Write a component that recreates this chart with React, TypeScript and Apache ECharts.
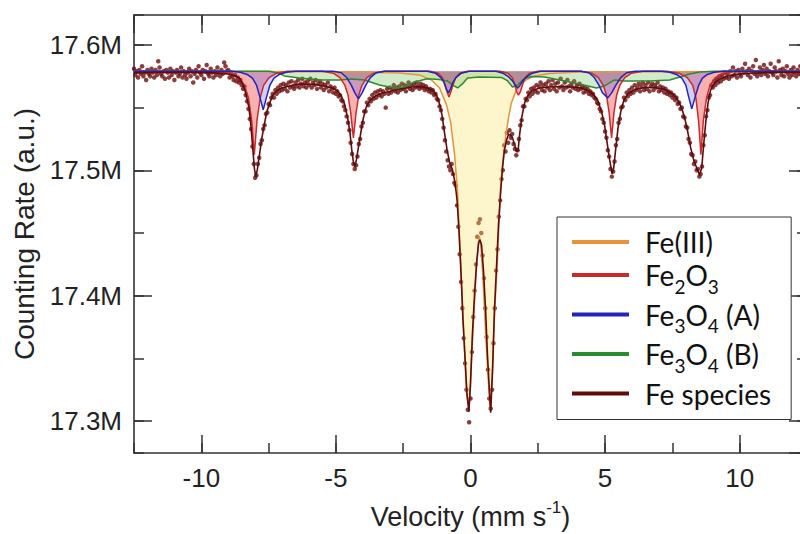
import { useEffect, useRef } from "react";
import * as echarts from "echarts";

// Mössbauer spectrum: channel velocities (mm/s) and counting rate (thousands of counts)
const VEL_START = -12.5;
const VEL_STEP = 0.05;
const COUNTS = [
  17581, 17576, 17579, 17574, 17580, 17577, 17583, 17575, 17578, 17572, 17580, 17577, 17575, 17581, 17578, 17574, 17580, 17576, 17587, 17582,
  17577, 17575, 17579, 17573, 17580, 17578, 17574, 17581, 17576, 17579, 17572, 17578, 17580, 17575, 17577, 17582, 17574, 17579, 17576, 17573,
  17578, 17581, 17575, 17579, 17570, 17577, 17580, 17574, 17583, 17578, 17576, 17580, 17573, 17579, 17584, 17577, 17575, 17581, 17578, 17574,
  17579, 17576, 17582, 17578, 17575, 17580, 17577, 17586, 17583, 17579,
  17580, 17574, 17578, 17575, 17572, 17576, 17571, 17574, 17570, 17572,
  17568, 17565, 17567, 17560, 17555, 17549, 17541, 17533, 17519, 17505,
  17494, 17496, 17505, 17510, 17521, 17524, 17533, 17536, 17545, 17546,
  17553, 17552, 17558, 17561, 17558, 17564, 17561, 17566, 17563, 17568,
  17564, 17569, 17565, 17568, 17563, 17570, 17566, 17571, 17567, 17565,
  17570, 17567, 17572, 17566, 17569, 17573, 17567, 17570, 17566, 17571,
  17568, 17573, 17566, 17570, 17568, 17572, 17565, 17569, 17571, 17566,
  17569, 17564, 17568, 17566, 17570, 17563, 17567, 17565, 17562, 17566,
  17561, 17563, 17559, 17560, 17556, 17555, 17551, 17548, 17543, 17538,
  17532, 17522, 17513, 17505, 17501, 17504, 17511, 17521, 17525, 17535,
  17538, 17547, 17547, 17554, 17552, 17557, 17555, 17560, 17557, 17562,
  17558, 17563, 17560, 17564, 17559, 17563, 17561, 17550, 17565, 17561,
  17566, 17562, 17565, 17568, 17563, 17566, 17562, 17567, 17564, 17569,
  17565, 17568, 17563, 17567, 17570, 17565, 17568, 17564, 17569, 17566,
  17570, 17567, 17565, 17569, 17566, 17568, 17564, 17567, 17565, 17563,
  17565, 17562, 17564, 17560, 17561, 17557, 17556, 17551, 17548, 17541,
  17534, 17524, 17515, 17508, 17503, 17500, 17505, 17497, 17490, 17488,
  17472, 17455, 17433, 17411, 17390, 17366, 17346, 17325, 17309, 17299,
  17318, 17355, 17383, 17404, 17425, 17447, 17458, 17461, 17450, 17432,
  17414, 17390, 17367, 17341, 17318, 17310, 17325, 17362, 17390, 17420,
  17437, 17463, 17476, 17493, 17500, 17520, 17515, 17530, 17522, 17532,
  17526, 17529, 17521, 17517, 17512, 17516, 17525, 17536, 17540, 17551,
  17551, 17557, 17556, 17562, 17559, 17565, 17561, 17566, 17563, 17568,
  17562, 17567, 17570, 17564, 17568, 17563, 17569, 17566, 17571, 17564,
  17568, 17572, 17565, 17569, 17563, 17570, 17566, 17573, 17567, 17564,
  17570, 17566, 17572, 17567, 17563, 17569, 17566, 17571, 17565, 17568,
  17564, 17569, 17565, 17567, 17562, 17566, 17563, 17565, 17561, 17563,
  17560, 17561, 17558, 17557, 17554, 17553, 17549, 17547, 17541, 17538,
  17531, 17526, 17516, 17511, 17501, 17495, 17499, 17507, 17520, 17525,
  17538, 17541, 17550, 17551, 17558, 17556, 17562, 17559, 17564, 17561,
  17566, 17562, 17568, 17564, 17566, 17569, 17563, 17567, 17570, 17564,
  17568, 17565, 17570, 17563, 17567, 17569, 17564, 17568, 17566, 17570,
  17563, 17567, 17564, 17566, 17562, 17565, 17561, 17563, 17560, 17562,
  17558, 17560, 17556, 17558, 17553, 17554, 17549, 17550, 17543, 17542,
  17535, 17534, 17525, 17522, 17513, 17512, 17505, 17507, 17500, 17501,
  17495, 17497, 17503, 17520, 17528, 17543, 17548, 17558, 17560, 17568,
  17566, 17571, 17568, 17573, 17570, 17575, 17571, 17576, 17573, 17578,
  17574, 17577, 17573, 17579, 17575, 17582, 17576, 17579, 17574, 17580,
  17577, 17575, 17581, 17578, 17585, 17579, 17576, 17581, 17574, 17579,
  17583, 17577, 17588, 17575, 17578, 17582, 17576, 17580, 17584, 17577,
  17581, 17575, 17579, 17585, 17578, 17576, 17582, 17579, 17574, 17587,
  17580, 17576, 17581, 17575, 17579, 17583, 17577, 17574, 17580, 17576,
  17582, 17578, 17575, 17580, 17577, 17583, 17576, 17579, 17574, 17580, 17577,
];

// Fitted components [velocity, kcounts]
const BASELINE = 17579;

const FE_III = [
  [-12.5, 17579], [-4.0, 17578.5], [-2.64, 17577.7], [-1.9, 17576.1], [-1.45, 17572.1], [-1.15, 17565.7],
  [-0.89, 17552.2], [-0.74, 17538.6], [-0.59, 17512.3], [-0.48, 17482.0], [-0.37, 17428.6], [-0.26, 17375.2],
  [-0.15, 17322.6], [-0.06, 17310.6], [0.02, 17341.0], [0.09, 17370.5], [0.21, 17418.3], [0.28, 17438.0],
  [0.33, 17447.6], [0.39, 17438.0], [0.46, 17415.1], [0.58, 17362.5], [0.67, 17329.0], [0.74, 17309.1],
  [0.82, 17341.0], [0.87, 17375.2], [1.0, 17428.6], [1.12, 17487.6], [1.19, 17504.4], [1.3, 17525.8],
  [1.41, 17541.8], [1.52, 17553.8], [1.67, 17562.5], [1.82, 17568.1], [2.08, 17572.1], [2.38, 17575.3],
  [2.94, 17577.3], [4.05, 17578.5], [12.5, 17579],
];

const FE2O3 = [
  [-12.5, 17579], [-9.3, 17579], [-8.9, 17577.5], [-8.6, 17574], [-8.4, 17568], [-8.25, 17558], [-8.13, 17540],
  [-8.03, 17512.4], [-7.93, 17540], [-7.81, 17558], [-7.68, 17568], [-7.48, 17574], [-7.2, 17577.5], [-6.8, 17579],
  [-5.5, 17579], [-5.1, 17577.5], [-4.85, 17574], [-4.67, 17568], [-4.55, 17560], [-4.45, 17546], [-4.35, 17525.9],
  [-4.25, 17546], [-4.15, 17560], [-4.03, 17568], [-3.85, 17574], [-3.6, 17577.5], [-3.2, 17579],
  [-1.5, 17579], [-1.2, 17577.5], [-1.05, 17574], [-0.95, 17568], [-0.87, 17562.5], [-0.8, 17558.5],
  [-0.73, 17562.5], [-0.65, 17568], [-0.55, 17574], [-0.4, 17577.5], [-0.1, 17579],
  [1.1, 17579], [1.4, 17577.5], [1.55, 17574], [1.65, 17568], [1.72, 17562.5], [1.78, 17560],
  [1.85, 17562.5], [1.93, 17568], [2.03, 17574], [2.2, 17577.5], [2.5, 17579],
  [4.1, 17579], [4.5, 17577.5], [4.75, 17574], [4.93, 17568], [5.05, 17560], [5.15, 17546], [5.24, 17525.9],
  [5.33, 17546], [5.43, 17560], [5.55, 17568], [5.73, 17574], [5.98, 17577.5], [6.4, 17579],
  [7.3, 17579], [7.75, 17577.5], [8.05, 17574], [8.25, 17568], [8.37, 17558], [8.47, 17540], [8.56, 17512.4],
  [8.65, 17540], [8.77, 17558], [8.9, 17568], [9.1, 17574], [9.4, 17577.5], [9.9, 17579], [12.5, 17579],
];

const FE3O4_A = [
  [-12.5, 17579], [-8.9, 17579], [-8.55, 17578.2], [-8.3, 17576.5], [-8.1, 17573.5], [-7.95, 17568], [-7.83, 17559],
  [-7.7, 17548.2], [-7.57, 17559], [-7.45, 17568], [-7.3, 17573.5], [-7.1, 17576.5], [-6.85, 17578.2], [-6.5, 17579],
  [-5.1, 17579], [-4.8, 17577.8], [-4.6, 17574], [-4.43, 17568], [-4.3, 17562], [-4.16, 17557], [-4.02, 17562],
  [-3.89, 17568], [-3.72, 17574], [-3.5, 17577.8], [-3.2, 17579],
  [-1.6, 17579], [-1.3, 17577.5], [-1.1, 17574], [-0.98, 17570], [-0.9, 17565], [-0.82, 17561.8], [-0.74, 17565],
  [-0.66, 17570], [-0.54, 17574], [-0.34, 17577.5], [-0.05, 17579],
  [0.95, 17579], [1.2, 17577.5], [1.42, 17574.5], [1.57, 17571], [1.67, 17567.5], [1.75, 17565.7], [1.83, 17567.5],
  [1.93, 17571], [2.08, 17574.5], [2.3, 17577.5], [2.6, 17579],
  [4.1, 17579], [4.4, 17577.8], [4.6, 17574], [4.77, 17568], [4.9, 17562], [5.1, 17557.8], [5.25, 17562],
  [5.4, 17568], [5.58, 17574], [5.8, 17577.8], [6.1, 17579],
  [7.1, 17579], [7.4, 17578.2], [7.65, 17576.5], [7.85, 17573.5], [8.0, 17568], [8.1, 17559], [8.22, 17549],
  [8.35, 17559], [8.48, 17568], [8.62, 17573.5], [8.8, 17576.5], [9.05, 17578.2], [9.4, 17579], [12.5, 17579],
];

const FE3O4_B = [
  [-12.5, 17579], [-7.47, 17579], [-7.17, 17577.7], [-6.91, 17575.3], [-6.36, 17573.7], [-5.61, 17572.1],
  [-4.87, 17572.1], [-4.42, 17572.9], [-3.94, 17572.1], [-3.38, 17568.1], [-2.83, 17565.7], [-2.45, 17566.5],
  [-2.08, 17570.5], [-1.6, 17573.0], [-1.15, 17572.5], [-0.86, 17571.3], [-0.67, 17568.1], [-0.48, 17565.7],
  [-0.3, 17568.9], [-0.11, 17573.7], [0.33, 17574.5], [1.15, 17574.1], [1.38, 17571.3], [1.56, 17566.5],
  [1.75, 17568.1], [1.97, 17572.9], [2.27, 17574.9], [2.75, 17574.5], [3.31, 17572.1], [4.05, 17568.9],
  [4.68, 17565.7], [4.98, 17567.3], [5.35, 17572.1], [5.72, 17571.3], [6.65, 17571.3], [7.4, 17572.1],
  [7.77, 17574.5], [8.14, 17576.9], [8.51, 17578.5], [9.07, 17579], [12.5, 17579],
];

const FE_SPECIES = [
  [-12.5, 17577.7], [-11.56, 17578], [-10.45, 17578.1], [-9.52, 17577.7], [-9.03, 17576.9], [-8.77, 17575.7],
  [-8.59, 17573.7], [-8.44, 17568.1], [-8.33, 17560.1], [-8.23, 17549.8], [-8.16, 17536.2], [-8.09, 17517.9],
  [-8.03, 17502], [-7.98, 17494.8], [-7.92, 17500.4], [-7.84, 17512.3], [-7.75, 17525.9], [-7.66, 17536.2],
  [-7.57, 17546.6], [-7.47, 17553], [-7.36, 17559.4], [-7.21, 17563.3], [-7.03, 17565.7], [-6.73, 17567.3],
  [-6.36, 17568.9], [-5.8, 17568.5], [-5.43, 17567.3], [-5.13, 17565.7], [-4.94, 17563.3], [-4.8, 17559.4],
  [-4.68, 17553], [-4.57, 17542.6], [-4.48, 17530.7], [-4.41, 17516.3], [-4.35, 17506.7], [-4.29, 17502.8],
  [-4.24, 17508.3], [-4.16, 17518.7], [-4.07, 17530.7], [-3.98, 17541.8], [-3.87, 17550.6], [-3.72, 17556.2],
  [-3.53, 17559.4], [-3.27, 17561.7], [-2.94, 17563.3], [-2.57, 17564.9], [-2.19, 17566.5], [-1.9, 17566.9],
  [-1.6, 17565.7], [-1.41, 17564.1], [-1.26, 17560.1], [-1.15, 17553], [-1.06, 17544.2], [-0.97, 17530.7],
  [-0.87, 17516.3], [-0.78, 17506.7], [-0.67, 17500.4], [-0.58, 17490.8], [-0.5, 17476.5], [-0.43, 17452.6],
  [-0.35, 17416.7], [-0.28, 17380.8], [-0.2, 17348.9], [-0.13, 17321], [-0.06, 17307.5], [0, 17329],
  [0.07, 17368.9], [0.15, 17400.7], [0.22, 17424.7], [0.3, 17442.2], [0.35, 17444.6], [0.41, 17440.6],
  [0.48, 17420.7], [0.56, 17388.8], [0.63, 17352.9], [0.71, 17321], [0.75, 17306.7], [0.82, 17341],
  [0.89, 17388.8], [0.97, 17424.7], [1.04, 17456.5], [1.12, 17482.8], [1.19, 17502], [1.26, 17516.3],
  [1.34, 17524.3], [1.41, 17528.3], [1.49, 17528.3], [1.56, 17525.9], [1.64, 17520.3], [1.71, 17514.7],
  [1.77, 17516.3], [1.82, 17527.5], [1.9, 17541.8], [2.01, 17553.8], [2.12, 17559.4], [2.27, 17563.3],
  [2.57, 17565.7], [2.94, 17566.5], [3.49, 17566.9], [4.05, 17566.1], [4.5, 17562.5], [4.72, 17556.2],
  [4.87, 17546.6], [4.98, 17536.2], [5.07, 17522.7], [5.17, 17508.3], [5.26, 17497.2], [5.32, 17502],
  [5.39, 17516.3], [5.48, 17533.8], [5.58, 17546.6], [5.69, 17555.4], [5.84, 17560.9], [6.06, 17564.1],
  [6.47, 17566.1], [6.84, 17566.1], [7.21, 17564.5], [7.47, 17561.7], [7.66, 17557.8], [7.81, 17551.4],
  [7.94, 17543.4], [8.07, 17530.7], [8.18, 17517.9], [8.29, 17508.3], [8.4, 17502], [8.51, 17496.4],
  [8.59, 17502], [8.66, 17520.3], [8.74, 17538.6], [8.83, 17554.6], [8.92, 17564.1], [9.07, 17569.7],
  [9.26, 17572.9], [9.55, 17575.3], [10, 17576.9], [10.74, 17577.7], [11.49, 17578.1], [12.5, 17578.1],
];

const LEGEND_NAMES = ["Fe(III)", "Fe2O3", "Fe3O4 (A)", "Fe3O4 (B)", "Fe species"];
const LEGEND_LABELS: Record<string, string> = {
  "Fe(III)": "{n|Fe(III)}",
  "Fe2O3": "{n|Fe}{s|2}{n|O}{s|3}",
  "Fe3O4 (A)": "{n|Fe}{s|3}{n|O}{s|4}{n| (A)}",
  "Fe3O4 (B)": "{n|Fe}{s|3}{n|O}{s|4}{n| (B)}",
  "Fe species": "{n|Fe species}",
};

const X_MIN = -12.5;
const X_MAX = 12.5;
const Y_MIN = 17274.5;
const Y_MAX = 17623.9;

const COLORS = {
  fe3: "#e8923c",
  fe2o3: "#cc2a2a",
  a: "#2323c0",
  b: "#2e8a2e",
  species: "#5e0c0c",
  dots: "#6e0e0e",
};

const AXIS_FONT = "'Liberation Sans', Arial, Helvetica, sans-serif";
const LEGEND_FONT = "Lato, 'Open Sans', sans-serif";
const AXIS_COLOR = "#333";

export default function App() {
  const ref = useRef<HTMLDivElement>(null);

  useEffect(() => {
    if (!ref.current) return;
    const chart = echarts.init(ref.current, null, { renderer: "svg" });
    const tickLine = { color: AXIS_COLOR, width: 1.5 };
    const axisLine = { show: true, onZero: false, lineStyle: { color: AXIS_COLOR, width: 1.6 } };
    const labelStyle = { fontSize: 26, color: "#222", fontFamily: AXIS_FONT };

    const xMajor = (position: string, withLabels: boolean) => ({
      type: "value",
      position,
      min: X_MIN,
      max: X_MAX,
      splitNumber: 5,
      axisLine,
      axisTick: { show: true, inside: true, length: 18, lineStyle: tickLine },
      axisLabel: withLabels
        ? { show: true, margin: 12, ...labelStyle, showMinLabel: false, showMaxLabel: false }
        : { show: false },
      splitLine: { show: false },
    });
    const xMinor = (position: string) => ({
      type: "value",
      position,
      min: X_MIN,
      max: X_MAX,
      interval: 2.5,
      axisLine: { show: false, onZero: false },
      axisTick: { show: true, inside: true, length: 10, lineStyle: tickLine },
      axisLabel: { show: false },
      splitLine: { show: false },
    });
    const yMajor = (position: string, withLabels: boolean) => ({
      type: "value",
      position,
      min: Y_MIN,
      max: Y_MAX,
      splitNumber: 4,
      axisLine,
      axisTick: { show: true, inside: true, length: 18, lineStyle: tickLine },
      axisLabel: withLabels
        ? {
            show: true,
            margin: 12,
            ...labelStyle,
            showMinLabel: false,
            showMaxLabel: false,
            formatter: (v: number) => (v / 1000).toFixed(1) + "M",
          }
        : { show: false },
      splitLine: { show: false },
    });
    const yMinor = (position: string) => ({
      type: "value",
      position,
      min: Y_MIN,
      max: Y_MAX,
      splitNumber: 7,
      axisLine: { show: false, onZero: false },
      axisTick: { show: true, inside: true, length: 10, lineStyle: tickLine },
      axisLabel: { show: false },
      splitLine: { show: false },
    });

    const component = (name: string, data: number[][], color: string, fill: string | null, width = 1.5) => ({
      type: "line",
      name,
      data,
      symbol: "none",
      showSymbol: false,
      smooth: false,
      silent: true,
      lineStyle: { color, width },
      itemStyle: { color },
      areaStyle: fill ? { color: fill, origin: BASELINE, opacity: 1 } : undefined,
      emphasis: { disabled: true },
    });

    const dots = COUNTS.map((c, i) => [VEL_START + i * VEL_STEP, c]);

    chart.setOption({
      animation: false,
      backgroundColor: "#fff",
      grid: { left: 134, top: 15, width: 673, height: 438, containLabel: false, outerBoundsMode: "none" },
      xAxis: [
        {
          ...xMajor("bottom", true),
          name: "{a|Velocity (mm s}{sup|-1}{a|)}",
          nameLocation: "middle",
          nameGap: 48,
          nameTextStyle: {
            rich: {
              a: { fontSize: 27, fontFamily: AXIS_FONT, color: "#222", lineHeight: 32 },
              sup: { fontSize: 17, fontFamily: AXIS_FONT, color: "#222", height: 12, lineHeight: 12, verticalAlign: "top" },
            },
          },
        },
        xMinor("bottom"),
        xMajor("top", false),
        xMinor("top"),
      ],
      yAxis: [
        {
          ...yMajor("left", true),
          name: "Counting Rate (a.u.)",
          nameLocation: "middle",
          nameGap: 91,
          nameRotate: 90,
          nameTextStyle: { fontSize: 28, fontFamily: AXIS_FONT, color: "#222" },
        },
        yMinor("left"),
        yMajor("right", false),
        yMinor("right"),
      ],
      legend: {
        data: [
          { name: "Fe(III)", itemStyle: { color: COLORS.fe3 } },
          { name: "Fe2O3", itemStyle: { color: COLORS.fe2o3 } },
          { name: "Fe3O4 (A)", itemStyle: { color: COLORS.a } },
          { name: "Fe3O4 (B)", itemStyle: { color: COLORS.b } },
          { name: "Fe species", itemStyle: { color: COLORS.species } },
        ],
        orient: "vertical",
        left: 557,
        top: 217,
        padding: [11, 20, 12, 15],
        itemGap: 5,
        itemWidth: 57,
        itemHeight: 4,
        icon: "rect",
        backgroundColor: "#fff",
        borderColor: "#333",
        borderWidth: 1,
        borderRadius: 0,
        selectedMode: false,
        formatter: (name: string) => LEGEND_LABELS[name] ?? name,
        textStyle: {
          padding: [0, 10, 0, 11],
          rich: {
            n: { fontSize: 28, fontFamily: LEGEND_FONT, color: "#111", lineHeight: 32 },
            s: { fontSize: 19, fontFamily: LEGEND_FONT, color: "#111", height: 10, lineHeight: 10, verticalAlign: "bottom" },
          },
        },
      },
      series: [
        component(LEGEND_NAMES[0], FE_III, COLORS.fe3, "rgba(250,225,110,0.35)"),
        component(LEGEND_NAMES[3], FE3O4_B, COLORS.b, "rgba(100,190,80,0.3)"),
        component(LEGEND_NAMES[1], FE2O3, COLORS.fe2o3, "rgba(235,60,60,0.4)"),
        component(LEGEND_NAMES[2], FE3O4_A, COLORS.a, "rgba(90,90,230,0.28)"),
        component(LEGEND_NAMES[4], FE_SPECIES, COLORS.species, null, 1.6),
        {
          type: "scatter",
          name: "data",
          data: dots,
          symbol: "circle",
          symbolSize: 4.5,
          itemStyle: { color: COLORS.dots },
          silent: true,
          emphasis: { disabled: true },
        },
      ],
    });
    return () => chart.dispose();
  }, []);

  return (
    <div
      ref={ref}
      style={{ position: "fixed", left: 0, top: 0, width: 800, height: 534, background: "#fff" }}
    />
  );
}
